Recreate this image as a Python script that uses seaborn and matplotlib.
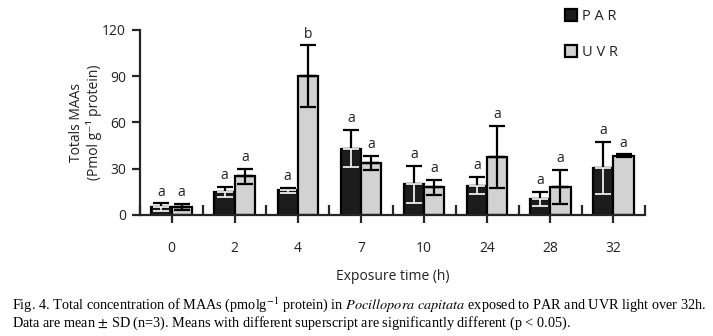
import numpy as np
import pandas as pd
import seaborn as sns
import matplotlib.pyplot as plt
from matplotlib.patches import Patch

# data
times = ["0", "2", "4", "7", "10", "24", "28", "32"]
par_mean = [5, 15, 16, 43, 20, 19, 10.5, 30.5]
par_sd = [2.5, 3, 1.5, 12, 12, 5.5, 4.5, 17]
uvr_mean = [5, 25, 90, 34, 18, 37.5, 18, 38.5]
uvr_sd = [2, 5, 20, 4.5, 5, 20, 11, 0.8]
par_letters = ["a", "a", "a", "a", "a", "a", "a", "a"]
uvr_letters = ["a", "a", "b", "a", "a", "a", "a", "a"]

df = pd.DataFrame({
    "time": times * 2,
    "light": ["PAR"] * 8 + ["UVR"] * 8,
    "maa": par_mean + uvr_mean,
})

sns.set_style("ticks")
plt.rcParams["font.family"] = ["Open Sans", "DejaVu Sans"]
plt.rcParams["mathtext.fontset"] = "stix"
ink = "#222222"

fig = plt.figure(figsize=(7.13, 3.36), dpi=100)
ax = fig.add_axes([140 / 713, 121 / 336, 505 / 713, 185 / 336])

sns.barplot(data=df, x="time", y="maa", hue="light", order=times,
            hue_order=["PAR", "UVR"],
            palette={"PAR": "#1c1c1c", "UVR": "#d2d2d2"},
            width=0.64, edgecolor="black", linewidth=1.6,
            errorbar=None, legend=False, ax=ax)

# SD error bars and significance letters
sds = [par_sd, uvr_sd]
means = [par_mean, uvr_mean]
letters = [par_letters, uvr_letters]
bar_conts = list(ax.containers)
for k, cont in enumerate(bar_conts):
    for i, bar in enumerate(cont.patches):
        x = bar.get_x() + bar.get_width() / 2
        m, s = means[k][i], sds[k][i]
        ax.errorbar(x, m, yerr=[[0], [s]], fmt="none", ecolor="black",
                    elinewidth=1.6, capsize=5.5, capthick=1.6, zorder=3)
        low_col = "white" if k == 0 else "black"
        ax.errorbar(x, m, yerr=[[s], [0]], fmt="none", ecolor=low_col,
                    elinewidth=1.2 if k == 0 else 1.6, capsize=5.5,
                    capthick=1.2 if k == 0 else 1.6, zorder=3)
        ax.text(x, m + s + 2.5, letters[k][i], ha="center", va="bottom",
                fontsize=10, color=ink)

ax.set_xlim(-0.5, 7.5)
ax.set_ylim(0, 120)
ax.set_yticks([0, 30, 60, 90, 120])
ax.set_xticks(np.arange(-0.5, 8, 1), minor=True)
sns.despine(ax=ax)
for sp in ["left", "bottom"]:
    ax.spines[sp].set_linewidth(1.6)
ax.tick_params(axis="x", which="major", direction="out", length=6, width=1.6,
               pad=13, labelsize=10, labelcolor=ink)
ax.tick_params(axis="x", which="minor", direction="in", length=7, width=1.6)
ax.tick_params(axis="y", direction="out", length=6, width=1.6, pad=4,
               labelsize=10, labelcolor=ink)

ax.set_xlabel("Exposure time (h)", fontsize=10, color=ink, labelpad=9)
ax.set_ylabel("Totals MAAs\n(Pmol g\u207b\u00b9 protein)", fontsize=10,
              color=ink, labelpad=0, linespacing=1.15)

handles = [Patch(facecolor="#1c1c1c", edgecolor="black", linewidth=1.6),
           Patch(facecolor="#d2d2d2", edgecolor="black", linewidth=1.6)]
fig.legend(handles, ["P A R", "U V R"], loc="upper left",
           bbox_to_anchor=(565 / 713, 1 - 9 / 336), frameon=False,
           fontsize=10.5, handlelength=0.85, handleheight=0.85,
           handletextpad=0.3, labelspacing=1.45, borderpad=0,
           borderaxespad=0, labelcolor=ink)

cap1 = (r"Fig. 4. Total concentration of MAAs (pmolg$^{-1}$ protein) in "
        r"$\mathit{Pocillopora\ capitata}$ exposed to PAR and UVR light over 32h.")
cap2 = r"Data are mean $\pm$ SD (n=3). Means with different superscript are significantly different (p < 0.05)."
fig.text(12 / 713, 1 - 305 / 336, cap1, family="Liberation Serif",
         fontsize=10.3, va="center", ha="left", color="black")
fig.text(12 / 713, 1 - 323 / 336, cap2, family="Liberation Serif",
         fontsize=10.3, va="center", ha="left", color="black")

fig.savefig("out.png", dpi=100)
